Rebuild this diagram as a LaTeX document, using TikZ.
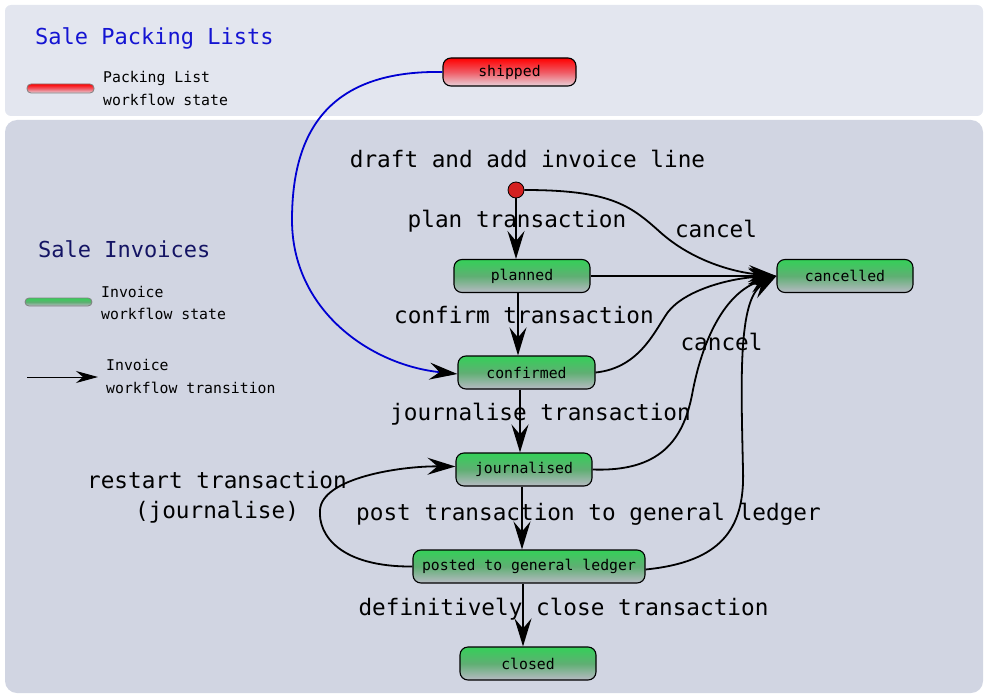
\documentclass[tikz,border=0pt]{standalone}
\usepackage{fontspec}
\setmonofont{DejaVu Sans Mono}
\usetikzlibrary{arrows.meta}
\usetikzlibrary{positioning}

\definecolor{packbg}{RGB}{227,230,239}
\definecolor{invbg}{RGB}{209,213,226}
\definecolor{stategreen}{RGB}{52,208,88}
\definecolor{statemid}{RGB}{95,175,115}
\definecolor{stategrey}{RGB}{184,186,196}
\definecolor{shipred}{RGB}{255,0,0}
\definecolor{shipmid}{RGB}{240,90,100}
\definecolor{shippink}{RGB}{232,210,218}
\definecolor{dotred}{RGB}{212,32,32}
\definecolor{linkblue}{RGB}{0,0,210}
\definecolor{titleblue}{RGB}{20,20,210}
\definecolor{titlenavy}{RGB}{20,20,100}

\begin{document}
\begin{tikzpicture}[x = 1pt, y = -1pt,
  state/.style = {draw, rounded corners = 8pt, line width = 1.1pt, top color = stategreen, bottom color = stategrey, middle color = statemid, minimum width = 136pt, minimum height = 33pt, inner sep = 0pt, font = \fontsize{14.8}{16}\ttfamily},
  shipstate/.style = {state, top color = shipred, bottom color = shippink, middle color = shipmid, minimum width = 133pt, minimum height = 28pt},
  keybar/.style = {draw = gray, line width = 0.8pt, rounded corners = 4pt, minimum width = 67pt, inner sep = 0pt},
  keytext/.style = {anchor = base west, inner sep = 0pt, font = \fontsize{14.8}{16}\ttfamily},
  lbl/.style = {anchor = base, inner sep = 0pt, font = \fontsize{22.7}{26}\ttfamily},
  title/.style = {anchor = base west, inner sep = 0pt, font = \fontsize{22}{26}\ttfamily},
  flow/.style = {line width = 1.8pt, -{Stealth[length = 28pt, width = 17pt, inset = 10pt]}}]

\useasboundingbox (0, 0) rectangle (987, 698);
\fill[packbg, rounded corners = 6pt] (5, 5) rectangle (983, 116);
\fill[invbg, rounded corners = 12pt] (5, 120) rectangle (983, 693);

\node[title, text = titleblue] (packtitle) at (35, 45) {Sale Packing Lists};
\node[title, text = titlenavy] (invtitle) at (38, 257) {Sale Invoices};

\node[keybar, top color = shipred, bottom color = shippink, middle color = shipmid, minimum height = 9pt] (packkey) at (60.5, 88.5) {};
\node[keytext] (packkeya) at (103, 83) {Packing List};
\node[keytext] (packkeyb) at (103, 106) {workflow state};
\node[keybar, top color = stategreen, bottom color = stategrey, middle color = statemid, minimum height = 8pt] (invkey) at (58.5, 302) {};
\node[keytext] (invkeya) at (101, 297) {Invoice};
\node[keytext] (invkeyb) at (101, 319) {workflow state};
\coordinate (keytail) at (27, 377);
\coordinate (keyhead) at (98, 377);
\draw[line width = 1pt, -{Stealth[length = 22pt, width = 12pt, inset = 7pt]}] (keytail) -- (keyhead);
\node[keytext] (trankeya) at (106, 370) {Invoice};
\node[keytext] (trankeyb) at (106, 393) {workflow transition};

\node[shipstate] (shipped) at (509.5, 72) {shipped};
\node[draw, circle, fill = dotred, line width = 0.8pt, minimum size = 16pt, inner sep = 0pt] (start) at (516, 190) {};
\node[state] (planned) at (522, 276) {planned};
\node[state] (cancelled) at (845, 276) {cancelled};
\node[state, minimum width = 137pt] (confirmed) at (526.5, 372.5) {confirmed};
\node[state] (journalised) at (524, 469.5) {journalised};
\node[state, minimum width = 232pt] (posted) at (529, 566.5) {posted to general ledger};
\node[state] (closed) at (528, 663.5) {closed};

\node[lbl] (draftlbl) at (527.5, 167) {draft and add invoice line};
\node[lbl] (planlbl) at (517, 227) {plan transaction};
\node[lbl] (cancellbl) at (716, 237) {cancel};
\node[lbl] (confirmlbl) at (524, 323) {confirm transaction};
\node[lbl] (cancellblb) at (721.5, 350) {cancel};
\node[lbl] (journallbl) at (540.5, 420) {journalise transaction};
\node[lbl] (restartlbl) at (217, 488) {restart transaction};
\node[lbl] (restartlblb) at (217, 518) {(journalise)};
\node[lbl] (postlbl) at (588.5, 520) {post transaction to general ledger};
\node[lbl] (closelbl) at (563.5, 615) {definitively close transaction};

\draw[flow] (start) -- (start |- planned.north);
\draw[flow] ([xshift = -4pt]planned.south) -- ([xshift = -4pt]planned.south |- confirmed.north);
\draw[flow] ([xshift = -6.5pt]confirmed.south) -- ([xshift = -6.5pt]confirmed.south |- journalised.north);
\draw[flow] ([xshift = -2pt]journalised.south) -- ([xshift = -2pt]journalised.south |- posted.north);
\draw[flow] ([xshift = -6pt]posted.south) -- ([xshift = -6pt]posted.south |- closed.north);

\draw[flow] (start.east) .. controls (610, 190) and (630, 205) .. (660, 232) .. controls (690, 259) and (730, 272) .. (cancelled.west);
\draw[flow] (planned) -- (cancelled);
\draw[flow] (confirmed.east) .. controls (640, 368) and (655, 330) .. (668, 312) .. controls (685, 290) and (730, 278) .. (cancelled.west);
\draw[flow] (journalised.east) .. controls (660, 472) and (683, 440) .. (692, 395) .. controls (702, 340) and (725, 292) .. (cancelled.west);
\draw[flow] ([yshift = -3pt]posted.east) .. controls (720, 562) and (745, 530) .. (743, 470) .. controls (741, 380) and (738, 300) .. (cancelled.west);

\draw[flow] (posted.west) .. controls (340, 567) and (318, 535) .. (320, 510) .. controls (322, 478) and (400, 466) .. ([yshift = 3pt]journalised.west);

\draw[line width = 1.8pt, linkblue, -{Stealth[length = 28pt, width = 17pt, inset = 10pt, color = black]}] (shipped.west) .. controls (330, 70) and (292, 130) .. (292, 220) .. controls (292, 310) and (370, 365) .. ([yshift = -1.5pt]confirmed.west);

\end{tikzpicture}
\end{document}
